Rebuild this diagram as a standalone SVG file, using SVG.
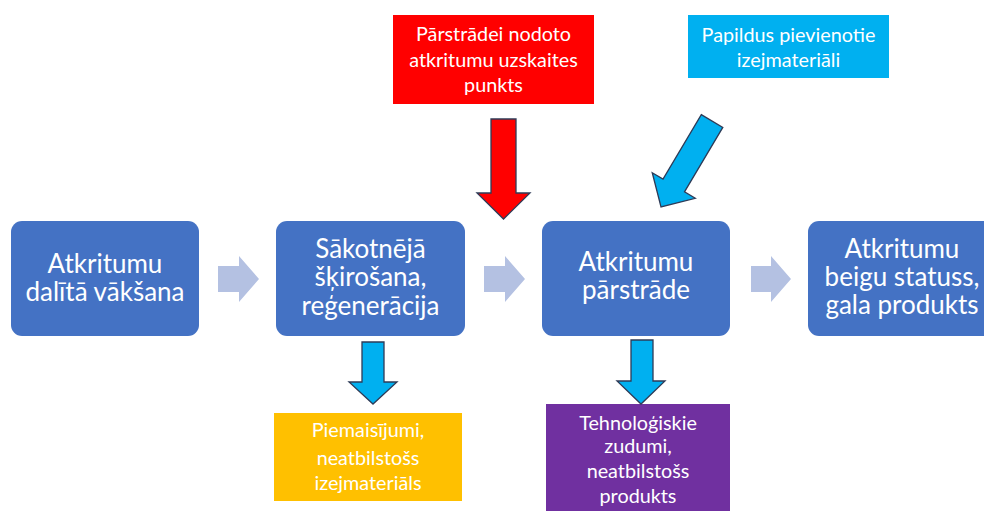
<svg xmlns="http://www.w3.org/2000/svg" width="984" height="513" viewBox="0 0 984 513">
<style>
.main{fill:#4472c4}
.mt{font-family:Lato,"Liberation Sans",sans-serif;font-size:26px;fill:#ffffff;text-anchor:middle}
.st{font-family:Lato,"Liberation Sans",sans-serif;font-size:19.8px;fill:#ffffff;text-anchor:middle}
.gray{fill:#b4c1e2}
.arr{stroke:#2e3b57;stroke-width:1.3;stroke-linejoin:miter}
</style>
<rect width="984" height="513" fill="#ffffff"/>
<g id="n1"><rect class="main" x="11" y="221" width="188" height="115" rx="11"/>
<text class="mt" x="105" y="273">Atkritumu</text><text class="mt" x="105" y="301">dalītā vākšana</text></g>
<g id="n2"><rect class="main" x="276" y="221" width="189" height="115" rx="11"/>
<text class="mt" x="370.5" y="258">Sākotnējā</text><text class="mt" x="370.5" y="286">šķirošana,</text><text class="mt" x="370.5" y="315">reģenerācija</text></g>
<g id="n3"><rect class="main" x="542" y="221" width="188" height="115" rx="11"/>
<text class="mt" x="636" y="271">Atkritumu</text><text class="mt" x="636" y="299">pārstrāde</text></g>
<g id="n4"><rect class="main" x="808" y="221" width="188" height="115" rx="11"/>
<text class="mt" x="902" y="258">Atkritumu</text><text class="mt" x="902" y="286">beigu statuss,</text><text class="mt" x="902" y="314">gala produkts</text></g>
<g id="n5"><rect x="393" y="15" width="201" height="89" fill="#ff0000"/>
<text class="st" x="493.5" y="41">Pārstrādei nodoto</text><text class="st" x="493.5" y="67">atkritumu uzskaites</text><text class="st" x="493.5" y="92">punkts</text></g>
<g id="n6"><rect x="688" y="15" width="201" height="63" fill="#00b0f0"/>
<text class="st" x="788.5" y="42">Papildus pievienotie</text><text class="st" x="788.5" y="67">izejmateriāli</text></g>
<g id="n7"><rect x="274" y="413" width="188" height="88" fill="#ffc000"/>
<text class="st" x="368" y="437">Piemaisījumi,</text><text class="st" x="368" y="465">neatbilstošs</text><text class="st" x="368" y="490">izejmateriāls</text></g>
<g id="n8"><rect x="546" y="404" width="184" height="107" fill="#7030a0"/>
<text class="st" x="638" y="430">Tehnoloģiskie</text><text class="st" x="638" y="453">zudumi,</text><text class="st" x="638" y="478">neatbilstošs</text><text class="st" x="638" y="503">produkts</text></g>
<g id="connectors">
<path class="gray" d="M218,266 H239 V256 L259,279 L239,302 V292 H218 Z"/>
<path class="gray" d="M484,266 H505 V256 L525,279 L505,302 V292 H484 Z"/>
<path class="gray" d="M751,266 H771 V256 L791,279 L771,302 V292 H751 Z"/>
<path class="arr" fill="#ff0000" d="M491,119 H516 V193 H530 L503.5,219 L477,193 H491 Z"/>
<path class="arr" fill="#00b0f0" transform="translate(661,207) rotate(30.7)" d="M-12.5,-100 L12.5,-100 L12.5,-25 L25,-25 L0,0 L-25,-25 L-12.5,-25 Z"/>
<path class="arr" fill="#00b0f0" d="M362,342 H384 V382 H397 L373,404 L349,382 H362 Z"/>
<path class="arr" fill="#00b0f0" d="M631,340 H653 V381 H665 L641,404 L617,381 H631 Z"/>
</g>
</svg>
